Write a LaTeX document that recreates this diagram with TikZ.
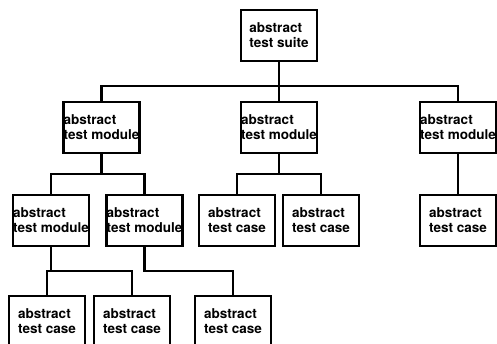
\documentclass[tikz,border=0pt]{standalone}
\usepackage{fontspec}
\setmainfont{TeX Gyre Heros}
\begin{document}
\begin{tikzpicture}[x=0.02cm,y=-0.02cm,line width=1.3pt,
  font=\fontsize{7.7}{8.6}\selectfont\bfseries,
  box/.style={draw,minimum width=1.52cm,minimum height=1.02cm,align=left},
  casebox/.style={box,inner xsep=0.16cm},
  modbox/.style={box,inner xsep=0pt}]
\useasboundingbox (0,0) rectangle (497,344);
\clip (0,0) rectangle (497,344);
%buses
\coordinate (bus1) at (0,86);
\coordinate (bus2) at (0,174);
\coordinate (bus3) at (0,271);
%suite
\node [casebox] (suite) at (279,35.5) {abstract\\test suite};
%modules
\node [modbox] (m1) at (101.5,127.5) {abstract\\test module};
\node [modbox] (m2) at (279,127.5) {abstract\\test module};
\node [modbox] (m3) at (458,127.5) {abstract\\test module};
\node [modbox] (m1a) at (51,220.5) {abstract\\test module};
\node [modbox] (m1b) at (144.5,220.5) {abstract\\test module};
%cases
\node [casebox] (c1) at (237,220.5) {abstract\\test case};
\node [casebox] (c2) at (321,220.5) {abstract\\test case};
\node [casebox] (c3) at (458,220.5) {abstract\\test case};
\node [casebox] (c4) at (47,321.5) {abstract\\test case};
\node [casebox] (c5) at (132,321.5) {abstract\\test case};
\node [casebox] (c6) at (233,321.5) {abstract\\test case};
%connectors
\draw (suite.south) -- (m2.north);
\draw (m1.north) |- (suite.south |- bus1) -| (m3.north);
\draw (m1.south) -- (m1.south |- bus2);
\draw (m1a.north) |- (m1.south |- bus2) -| (m1b.north);
\draw (m2.south) -- (m2.south |- bus2);
\draw (c1.north) |- (m2.south |- bus2) -| (c2.north);
\draw (m3.south) -- (c3.north);
\draw (m1a.south) -- (m1a.south |- bus3);
\draw (c4.north) |- (m1a.south |- bus3) -| (c5.north);
\draw (m1b.south) |- (c6.north |- bus3) -- (c6.north);
\end{tikzpicture}
\end{document}
